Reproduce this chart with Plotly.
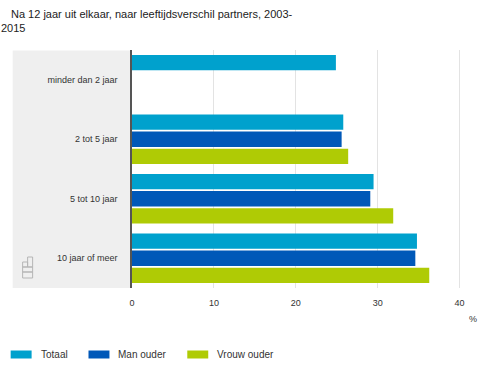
import plotly.graph_objects as go

categories = ["minder dan 2 jaar", "2 tot 5 jaar", "5 tot 10 jaar", "10 jaar of meer"]
totaal = [24.9, 25.8, 29.5, 34.8]
man_ouder = [None, 25.6, 29.1, 34.6]
vrouw_ouder = [None, 26.4, 31.9, 36.3]
series_names = ["Totaal", "Man ouder", "Vrouw ouder"]
colors = ["#00a1cd", "#0058b8", "#afcb05"]
x_ticks = [0, 10, 20, 30, 40]

W, H = 500, 375
L, R, T, B = 131.6, 462.3, 50, 288  # plot area in pixels

def px(x):
    return (x - L) / (R - L)

def py(y):
    return (B - y) / (B - T)

FONT = "Liberation Sans, Arial, sans-serif"
fig = go.Figure()
for name, vals, col in zip(series_names, [totaal, man_ouder, vrouw_ouder], colors):
    fig.add_trace(go.Bar(y=categories, x=vals, name=name, orientation="h",
                         marker=dict(color=col, line=dict(width=0)), showlegend=False))

shapes = [
    # grey label panel
    dict(type="rect", xref="paper", yref="paper", x0=px(12), x1=px(131), y0=0, y1=py(50.5),
         fillcolor="#efefef", line=dict(width=0), layer="below"),
]
# cbs logo (approximate)
lg = "#b5b5b5"
for (x0, y0, x1, y1) in [(22, 262, 27, 267), (27, 257, 32, 267), (22, 267, 32, 272), (22, 272, 32, 278)]:
    shapes.append(dict(type="rect", xref="paper", yref="paper", x0=px(x0), x1=px(x1),
                       y0=py(y1), y1=py(y0), line=dict(color=lg, width=1), fillcolor="rgba(0,0,0,0)"))

annotations = [
    dict(text="Na 12 jaar uit elkaar, naar leeftijdsverschil partners, 2003-", xref="paper", yref="paper",
         x=px(8.5), y=py(14), xanchor="left", yanchor="middle", showarrow=False,
         font=dict(size=11, color="#222", family=FONT)),
    dict(text="2015", xref="paper", yref="paper", x=px(-1.5), y=py(28), xanchor="left", yanchor="middle",
         showarrow=False, font=dict(size=11, color="#222", family=FONT)),
    dict(text="%", xref="paper", yref="paper", x=px(473), y=py(319), xanchor="center", yanchor="middle",
         showarrow=False, font=dict(size=9, color="#333", family=FONT)),
]
# manual legend
leg = [(10, 31, 38.5), (88, 109, 116), (187, 208, 214.5)]
for (s0, s1, tx), name, col in zip(leg, series_names, colors):
    shapes.append(dict(type="rect", xref="paper", yref="paper", x0=px(s0), x1=px(s1),
                       y0=py(358.5), y1=py(350.5), fillcolor=col, line=dict(width=0)))
    annotations.append(dict(text=name, xref="paper", yref="paper", x=px(tx), y=py(354.5),
                            xanchor="left", yanchor="middle", showarrow=False,
                            font=dict(size=10, color="#333", family=FONT)))

fig.update_layout(
    width=W, height=H,
    margin=dict(l=L, r=W - R, t=T, b=H - B),
    paper_bgcolor="white", plot_bgcolor="white",
    barmode="group", bargap=0.14, bargroupgap=0.1,
    shapes=shapes, annotations=annotations,
    font=dict(family=FONT, size=9, color="#333"),
    xaxis=dict(range=[0, 40.3], tickvals=x_ticks, showgrid=True, gridcolor="#e3e3e3", gridwidth=1,
               zeroline=False, showline=False, ticks="", tickfont=dict(size=9, color="#333"),
               ticklabelstandoff=8),
    yaxis=dict(autorange="reversed", showgrid=False, zeroline=False, ticks="",
               showline=True, linecolor="#555", linewidth=1.5,
               ticklabelstandoff=11, tickfont=dict(size=9, color="#333")),
)
fig.write_html("out.html", config={"displayModeBar": False},
               post_script="document.body.style.margin='0';")
